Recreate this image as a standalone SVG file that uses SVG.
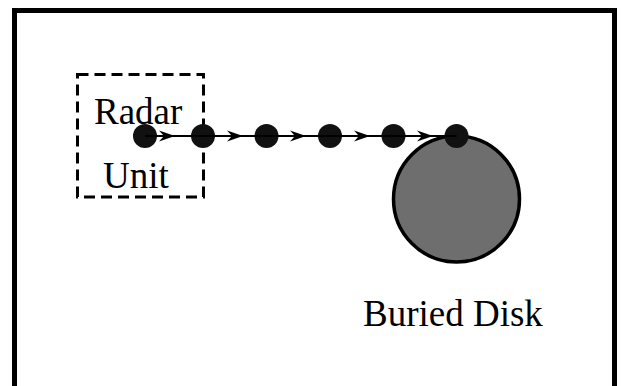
<svg xmlns="http://www.w3.org/2000/svg" width="621" height="386" viewBox="0 0 621 386">
  <style>
    .label { font-family: "Liberation Serif", "Times New Roman", serif; font-size: 37px; fill: #000; }
    .dot { fill: #111; }
    .link { fill: none; stroke: #000; stroke-width: 2; marker-mid: url(#barb); }
  </style>
  <defs>
    <marker id="barb" markerUnits="userSpaceOnUse" viewBox="-17 -6 18 12" refX="0" refY="0" markerWidth="18" markerHeight="12" orient="auto">
      <path d="M0,0 L-16,-5.5 L-11,0 L-16,5.5 Z" fill="#000"/>
    </marker>
  </defs>

  <rect width="621" height="386" fill="#fff"/>

  <!-- outer frame (open at the bottom edge of the view) -->
  <rect x="14.5" y="10.5" width="600" height="400" fill="none" stroke="#000" stroke-width="5"/>

  <g id="radar-unit">
    <rect x="77.5" y="74.5" width="126" height="122.5" fill="none" stroke="#000" stroke-width="3" stroke-dasharray="11 6"/>
    <text class="label" x="94" y="124">Radar</text>
    <text class="label" x="103" y="188">Unit</text>
  </g>

  <g id="buried-disk">
    <circle cx="456.5" cy="199" r="63" fill="#6e6e6e" stroke="#000" stroke-width="3.5"/>
    <text class="label" x="363" y="326">Buried Disk</text>
  </g>

  <g id="positions">
    <circle id="p1" class="dot" cx="145" cy="136" r="12"/>
    <circle id="p2" class="dot" cx="203" cy="136" r="12"/>
    <circle id="p3" class="dot" cx="266.5" cy="136" r="12"/>
    <circle id="p4" class="dot" cx="330" cy="136" r="12"/>
    <circle id="p5" class="dot" cx="393.5" cy="136" r="12"/>
    <circle id="p6" class="dot" cx="456.5" cy="136" r="12"/>
  </g>

  <g id="connectors">
    <path class="link" d="M145,136 L175,136 L203,136"/>
    <path class="link" d="M203,136 L243,136 L266.5,136"/>
    <path class="link" d="M266.5,136 L306,136 L330,136"/>
    <path class="link" d="M330,136 L370,136 L393.5,136"/>
    <path class="link" d="M393.5,136 L433,136 L456.5,136"/>
  </g>
</svg>
